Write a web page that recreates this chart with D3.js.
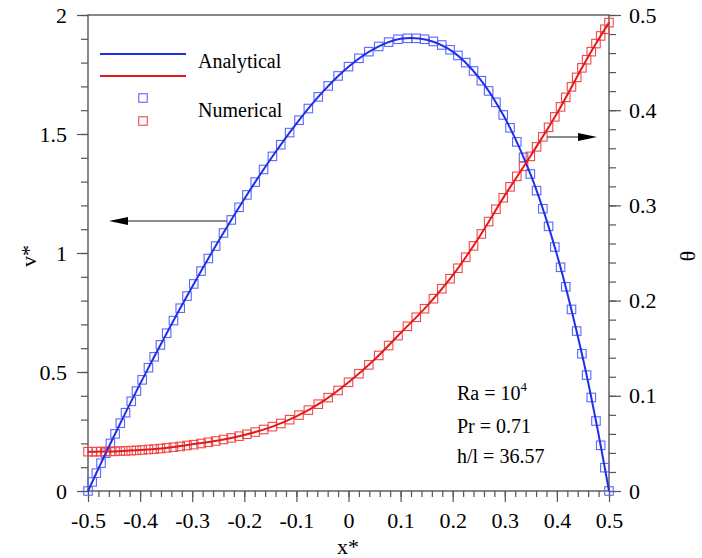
<!DOCTYPE html>
<html>
<head>
<meta charset="utf-8">
<script src="https://cdn.jsdelivr.net/npm/d3@7"></script>
<style>
  body { margin: 0; background: #fff; }
  svg { display: block; }
</style>
</head>
<body>
<div id="chart"></div>
<script>
// numerical grid (clustered near the walls)
const xGrid = [-0.5, -0.492, -0.484, -0.475, -0.466, -0.457, -0.448, -0.438, -0.428, -0.417,
  -0.407, -0.396, -0.384, -0.373, -0.361, -0.349, -0.336, -0.323, -0.31, -0.297,
  -0.283, -0.269, -0.255, -0.24, -0.225, -0.21, -0.195, -0.179, -0.163, -0.146,
  -0.13, -0.113, -0.095, -0.077, -0.058, -0.039, -0.02, 0, 0.02, 0.039,
  0.058, 0.077, 0.095, 0.113, 0.13, 0.146, 0.163, 0.179, 0.195, 0.21,
  0.225, 0.24, 0.255, 0.269, 0.283, 0.297, 0.31, 0.323, 0.336, 0.349,
  0.361, 0.373, 0.384, 0.396, 0.407, 0.417, 0.428, 0.438, 0.448, 0.457,
  0.466, 0.475, 0.484, 0.492, 0.5];

const vNum = [0, 0.038, 0.075, 0.117, 0.159, 0.200, 0.240, 0.285, 0.329, 0.377,
  0.420, 0.467, 0.518, 0.564, 0.614, 0.663, 0.716, 0.768, 0.819, 0.870,
  0.924, 0.977, 1.029, 1.084, 1.139, 1.192, 1.244, 1.298, 1.351, 1.406,
  1.455, 1.506, 1.558, 1.607, 1.656, 1.702, 1.744, 1.783, 1.818, 1.846,
  1.868, 1.886, 1.898, 1.902, 1.902, 1.898, 1.889, 1.874, 1.854, 1.830,
  1.800, 1.765, 1.724, 1.681, 1.633, 1.580, 1.526, 1.467, 1.402, 1.332,
  1.262, 1.186, 1.112, 1.025, 0.940, 0.858, 0.763, 0.672, 0.577, 0.487,
  0.393, 0.294, 0.192, 0.098, 0];

const thetaNum = [0.0413, 0.0413, 0.0413, 0.0414, 0.0415, 0.0416, 0.0417, 0.0419, 0.0421, 0.0424,
  0.0427, 0.0431, 0.0436, 0.0440, 0.0446, 0.0453, 0.0460, 0.0468, 0.0478, 0.0487,
  0.0499, 0.0512, 0.0525, 0.0541, 0.0558, 0.0576, 0.0596, 0.0619, 0.0646, 0.0676,
  0.0709, 0.0749, 0.0797, 0.0850, 0.0912, 0.0981, 0.1056, 0.1142, 0.1232, 0.1325,
  0.1424, 0.1528, 0.1632, 0.1730, 0.1825, 0.1915, 0.2020, 0.2125, 0.2230, 0.2340,
  0.2455, 0.2575, 0.2700, 0.2830, 0.2960, 0.3080, 0.3195, 0.3305, 0.3410, 0.3515,
  0.3615, 0.3720, 0.3820, 0.3930, 0.4035, 0.4135, 0.4245, 0.4345, 0.4445, 0.4530,
  0.4615, 0.4700, 0.4780, 0.4850, 0.4920];

// analytical solution
const xAna = [-0.5, -0.475, -0.45, -0.4, -0.35, -0.3, -0.25, -0.2, -0.15, -0.1, -0.05,
  0, 0.05, 0.1, 0.15, 0.2, 0.25, 0.3, 0.35, 0.4, 0.45, 0.475, 0.5];
const vAna = [0, 0.117, 0.231, 0.450, 0.659, 0.858, 1.048, 1.227, 1.393, 1.544, 1.676,
  1.783, 1.859, 1.900, 1.896, 1.846, 1.738, 1.568, 1.327, 0.994, 0.557, 0.294, 0];
const thetaAna = [0.0413, 0.0414, 0.0416, 0.0430, 0.0452, 0.0490, 0.0530, 0.0589, 0.0668, 0.0783, 0.0939,
  0.1142, 0.1382, 0.1660, 0.1940, 0.2265, 0.2660, 0.3105, 0.3525, 0.3965, 0.4465, 0.4700, 0.4920];

const xTicks = [-0.5, -0.4, -0.3, -0.2, -0.1, 0, 0.1, 0.2, 0.3, 0.4, 0.5];
const vTicks = [0, 0.5, 1, 1.5, 2];
const thetaTicks = [0, 0.1, 0.2, 0.3, 0.4, 0.5];

const W = 702, H = 558;
const M = { LEFT: 88, RIGHT: 609, TOP: 15, BOTTOM: 491 };
const FONT = "'Liberation Serif', 'Times New Roman', serif";
const BLUE = "#1f2fe6", RED = "#e31a1c";
const BLUE_MK = "#5a66ff", RED_MK = "#f04848";
const AXIS = "#555";

const svg = d3.select("#chart").append("svg")
  .attr("width", W).attr("height", H)
  .style("font-family", FONT);

const x = d3.scaleLinear().domain([-0.5, 0.5]).range([M.LEFT, M.RIGHT]);
const yL = d3.scaleLinear().domain([0, 2]).range([M.BOTTOM, M.TOP]);
const yR = d3.scaleLinear().domain([0, 0.5]).range([M.BOTTOM, M.TOP]);

const fmt = d => d3.format("")(d).replace("−", "-");

// minor ticks
function minor(g, axis) {
  g.call(axis);
  g.select(".domain").remove();
  g.selectAll("line").attr("stroke", AXIS).attr("stroke-width", 1.2);
}
svg.append("g").attr("transform", `translate(0,${M.BOTTOM})`)
  .call(g => minor(g, d3.axisBottom(x).tickValues(x.ticks(50)).tickSize(6).tickFormat("")));
svg.append("g").attr("transform", `translate(${M.LEFT},0)`)
  .call(g => minor(g, d3.axisLeft(yL).tickValues(yL.ticks(20)).tickSize(7).tickFormat("")));
svg.append("g").attr("transform", `translate(${M.RIGHT},0)`)
  .call(g => minor(g, d3.axisRight(yR).tickValues(yR.ticks(25)).tickSize(7).tickFormat("")));

// major ticks + labels
function major(g, axis) {
  g.call(axis);
  g.select(".domain").remove();
  g.selectAll("line").attr("stroke", AXIS).attr("stroke-width", 1.2);
  g.selectAll("text").attr("fill", "#000").style("font-size", "22px").style("font-family", FONT);
}
svg.append("g").attr("transform", `translate(0,${M.BOTTOM})`)
  .call(g => major(g, d3.axisBottom(x).tickValues(xTicks).tickSize(11).tickPadding(10).tickFormat(fmt)));
svg.append("g").attr("transform", `translate(${M.LEFT},0)`)
  .call(g => major(g, d3.axisLeft(yL).tickValues(vTicks).tickSize(11).tickPadding(10).tickFormat(fmt)));
svg.append("g").attr("transform", `translate(${M.RIGHT},0)`)
  .call(g => major(g, d3.axisRight(yR).tickValues(thetaTicks).tickSize(12).tickPadding(8).tickFormat(fmt)));

// frame
svg.append("rect")
  .attr("x", M.LEFT).attr("y", M.TOP)
  .attr("width", M.RIGHT - M.LEFT).attr("height", M.BOTTOM - M.TOP)
  .attr("fill", "none").attr("stroke", AXIS).attr("stroke-width", 1.4);

// markers (numerical)
const MK = 8.5;
function markers(ys, scale, color) {
  svg.append("g").selectAll("rect")
    .data(xGrid.map((d, i) => [d, ys[i]]))
    .join("rect")
    .attr("x", d => x(d[0]) - MK / 2)
    .attr("y", d => scale(d[1]) - MK / 2)
    .attr("width", MK).attr("height", MK)
    .attr("fill", "none").attr("stroke", color).attr("stroke-width", 1.1);
}
markers(vNum, yL, BLUE_MK);
markers(thetaNum, yR, RED_MK);

// analytical lines
function line(ys, scale, color) {
  const gen = d3.line().x(d => x(d[0])).y(d => scale(d[1])).curve(d3.curveCatmullRom);
  svg.append("path")
    .datum(xAna.map((d, i) => [d, ys[i]]))
    .attr("d", gen)
    .attr("fill", "none").attr("stroke", color).attr("stroke-width", 2);
}
line(vAna, yL, BLUE);
line(thetaAna, yR, RED);

// legend
const leg = svg.append("g");
leg.append("line").attr("x1", 100).attr("x2", 186).attr("y1", 54).attr("y2", 54)
  .attr("stroke", BLUE).attr("stroke-width", 2);
leg.append("line").attr("x1", 100).attr("x2", 186).attr("y1", 76).attr("y2", 76)
  .attr("stroke", RED).attr("stroke-width", 2);
leg.append("rect").attr("x", 143 - MK / 2).attr("y", 98 - MK / 2).attr("width", MK).attr("height", MK)
  .attr("fill", "none").attr("stroke", BLUE_MK).attr("stroke-width", 1.1);
leg.append("rect").attr("x", 143 - MK / 2).attr("y", 121 - MK / 2).attr("width", MK).attr("height", MK)
  .attr("fill", "none").attr("stroke", RED_MK).attr("stroke-width", 1.1);
leg.append("text").attr("x", 198).attr("y", 68).style("font-size", "20px").text("Analytical");
leg.append("text").attr("x", 198).attr("y", 117).style("font-size", "20px").text("Numerical");

// parameters
const ann = svg.append("g").style("font-size", "20px");
const ra = ann.append("text").attr("x", 457).attr("y", 400);
ra.append("tspan").text("Ra = 10");
ra.append("tspan").attr("dy", -9).style("font-size", "13px").text("4");
ann.append("text").attr("x", 457).attr("y", 433).text("Pr = 0.71");
ann.append("text").attr("x", 457).attr("y", 463).text("h/l = 36.57");

// arrows
function arrow(x1, x2, y) {
  const dir = Math.sign(x2 - x1), head = 19;
  svg.append("line").attr("x1", x1).attr("x2", x2 - dir * head).attr("y1", y).attr("y2", y)
    .attr("stroke", "#666").attr("stroke-width", 1.5);
  svg.append("path")
    .attr("d", `M${x2},${y} L${x2 - dir * head},${y - 4} L${x2 - dir * head},${y + 4} Z`)
    .attr("fill", "#000");
}
arrow(227, 109, 221);
arrow(547, 597, 137);

// axis titles
svg.append("text").attr("x", 348).attr("y", 554).attr("text-anchor", "middle")
  .style("font-size", "22px").text("x*");
svg.append("text").attr("transform", "translate(36,256) rotate(-90)").attr("text-anchor", "middle")
  .style("font-size", "22px").text("v*");
svg.append("text").attr("transform", "translate(680,256) rotate(90)").attr("text-anchor", "middle")
  .style("font-size", "22px").text("θ");
</script>
</body>
</html>
